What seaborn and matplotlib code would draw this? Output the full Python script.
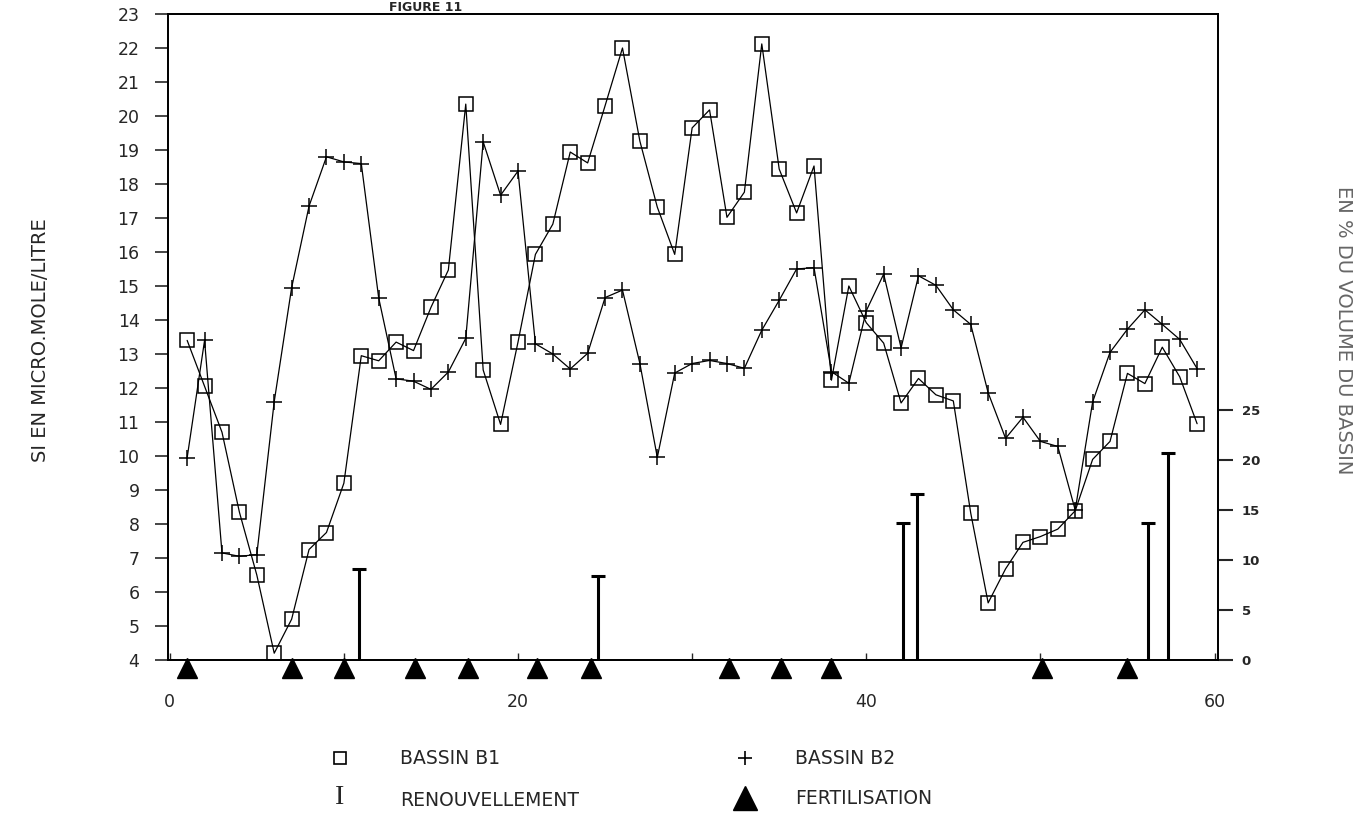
import matplotlib
matplotlib.use("Agg")
import matplotlib.pyplot as plt
import matplotlib.transforms as mtransforms
from matplotlib.lines import Line2D
import numpy as np
import pandas as pd
import seaborn as sns

# ---------------- data ----------------
days = list(range(1, 60))
bassin_b1 = [13.4, 12.05, 10.7, 8.35, 6.5, 4.2, 5.2, 7.25, 7.75, 9.2,
             12.95, 12.8, 13.35, 13.1, 14.37, 15.47, 20.35, 12.53, 10.93, 13.35,
             15.93, 16.82, 18.94, 18.62, 20.3, 22.0, 19.26, 17.32, 15.93, 19.65,
             20.18, 17.02, 17.76, 22.12, 18.44, 17.15, 18.53, 12.23, 15.0, 13.92,
             13.32, 11.56, 12.28, 11.8, 11.62, 8.32, 5.68, 6.68, 7.46, 7.63,
             7.85, 8.39, 9.9, 10.43, 12.43, 12.13, 13.2, 12.33, 10.95]
bassin_b2 = [9.95, 13.4, 7.15, 7.05, 7.1, 11.6, 14.95, 17.35, 18.8, 18.65,
             18.6, 14.65, 12.27, 12.2, 11.96, 12.47, 13.46, 19.24, 17.67, 18.38,
             13.3, 13.0, 12.56, 13.02, 14.66, 14.88, 12.72, 9.96, 12.44, 12.72,
             12.81, 12.72, 12.58, 13.7, 14.58, 15.5, 15.54, 12.48, 12.14, 14.27,
             15.35, 13.18, 15.3, 15.02, 14.3, 13.87, 11.86, 10.52, 11.14, 10.43,
             10.28, 8.41, 11.59, 13.05, 13.73, 14.3, 13.87, 13.43, 12.57]
renouv_days = [10.85, 24.6, 42.1, 42.9, 56.2, 57.3]
renouv_pct = [9.1, 8.4, 13.7, 16.6, 13.7, 20.7]
fert_days = [1, 7, 10, 14.1, 17.1, 21.1, 24.2, 32.1, 35.1, 38.0, 50.1, 55.0]

left_ticks = list(range(4, 24))
right_ticks = [0, 5, 10, 15, 20, 25]
x_ticks = [0, 10, 20, 30, 40, 50, 60]
x_labels = ["0", "", "20", "", "40", "", "60"]

# ---------------- style ----------------
sns.set_style("ticks")
plt.rcParams["font.family"] = ["DejaVu Sans"]

W, H = 1372, 815
fig = plt.figure(figsize=(W / 100, H / 100), dpi=100)
ax = fig.add_axes([168 / W, 1 - 660 / H, (1218 - 168) / W, (660 - 14) / H])

df = pd.DataFrame({"jour": days, "B1": bassin_b1, "B2": bassin_b2})

sns.lineplot(data=df, x="jour", y="B1", ax=ax, color="black", linewidth=0.9,
             marker="s", markersize=10, markerfacecolor="none",
             markeredgecolor="black", markeredgewidth=1.1)
sns.lineplot(data=df, x="jour", y="B2", ax=ax, color="black", linewidth=0.9,
             marker="+", markersize=11, markeredgecolor="black",
             markeredgewidth=1.1)

ax.set_xlim(-0.1, 60.2)
ax.set_ylim(4, 23)
ax.set_yticks(left_ticks)
ax.set_yticklabels([str(t) for t in left_ticks], fontsize=12.5)
ax.set_xticks(x_ticks)
ax.set_xticklabels(x_labels, fontsize=12.5)
ax.tick_params(axis="x", direction="in", length=5, width=1, pad=24)
ax.tick_params(axis="y", direction="out", length=9.5, width=1.2, pad=11)
ax.set_xlabel("")
ax.set_ylabel("")
for s in ax.spines.values():
    s.set_linewidth(1.3)
    s.set_color("black")

# fertilisation triangles just under the axis
trans = mtransforms.blended_transform_factory(ax.transData, ax.transAxes)
ax.plot(fert_days, [-0.013] * len(fert_days), transform=trans, ls="none",
        marker="^", markersize=14, color="black", clip_on=False, zorder=5)

# right axis : renouvellement
ax2 = ax.twinx()
ax2.set_ylim(0, 64.6)
ax2.vlines(renouv_days, 0, renouv_pct, color="black", linewidth=2.2)
ax2.plot(renouv_days, renouv_pct, ls="none", marker="_", markersize=10,
         markeredgewidth=2.2, color="black")
ax2.set_yticks(right_ticks)
ax2.set_yticklabels([str(t) for t in right_ticks], fontsize=9.5, fontweight="bold")
ax2.tick_params(axis="y", direction="out", length=11, width=1.5, pad=6)
for s in ax2.spines.values():
    s.set_linewidth(1.3)
    s.set_color("black")

# axis titles
fig.text(41 / W, 1 - 340 / H, "SI EN MICRO.MOLE/LITRE", rotation=90,
         ha="center", va="center", fontsize=14)
fig.text(1344 / W, 1 - 330 / H, "EN % DU VOLUME DU BASSIN", rotation=270,
         ha="center", va="center", fontsize=14, color="#666666")

# title (at the very top, cut in the scan)
fig.text(426 / W, 1 - 1 / H, "FIGURE 11", ha="center", va="top",
         fontsize=9, fontweight="bold")

# legend
def fx(px):
    return px / W


def fy(py):
    return 1 - py / H


fig.add_artist(Line2D([fx(340)], [fy(758)], marker="s", markersize=9,
                      markerfacecolor="none", markeredgecolor="black",
                      markeredgewidth=1.2, ls="none", transform=fig.transFigure))
fig.add_artist(Line2D([fx(745)], [fy(758)], marker="+", markersize=10,
                      color="black", markeredgewidth=1.2, ls="none",
                      transform=fig.transFigure))
fig.add_artist(Line2D([fx(745)], [fy(798)], marker="^", markersize=17,
                      color="black", ls="none", transform=fig.transFigure))
fig.text(fx(340), fy(797), "I", ha="center", va="center", fontsize=20,
         family=["Liberation Serif", "DejaVu Serif"])
fig.text(fx(400), fy(758), "BASSIN B1", ha="left", va="center", fontsize=13.5)
fig.text(fx(795), fy(758), "BASSIN B2", ha="left", va="center", fontsize=13.5)
fig.text(fx(400), fy(801), "RENOUVELLEMENT", ha="left", va="center", fontsize=13.5)
fig.text(fx(795), fy(799), "FERTILISATION", ha="left", va="center", fontsize=13.5)

fig.savefig("out.png", dpi=100)
